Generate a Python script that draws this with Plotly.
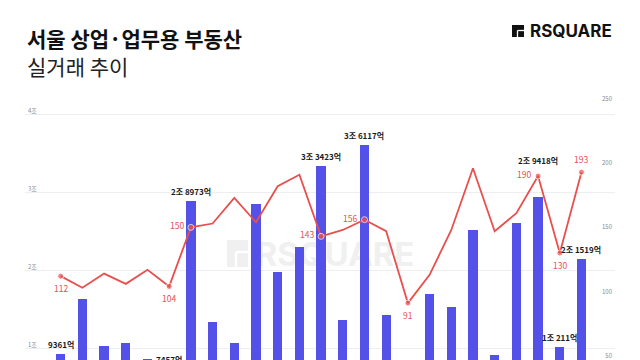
import plotly.graph_objects as go

# ---------------- data ----------------
periods = ["1", "2", "3", "4", "5", "6", "7", "8", "9", "10", "11", "12", "13",
           "14", "15", "16", "17", "18", "19", "20", "21", "22", "23", "24", "25"]
# transaction amount (억원)
amount = [9361, 16390, 10410, 10790, 8700, 7457, 28973, 13400, 10800, 28550,
          19890, 23010, 33423, 13700, 36117, 14300, 8200, 17030, 15330, 25220,
          9220, 26120, 29418, 10211, 21519]
# number of transactions (건)
count = [112, 103, 114, 106, 117, 104, 150, 153, 173, 154, 182, 191, 143,
         148, 156, 147, 91, 113, 148, 196, 147, 161, 190, 130, 193]

left_tick_vals = [10000, 20000, 30000, 40000]
left_tick_text = ["1조", "2조", "3조", "4조"]
right_tick_vals = [50, 100, 150, 200, 250]
right_tick_text = ["50", "100", "150", "200", "250"]

bar_label_idx = [0, 5, 6, 12, 14, 22, 23, 24]
line_label_idx = [0, 5, 6, 12, 14, 16, 22, 23, 24]
# label placement for the line labels
line_label_pos = {0: "below", 5: "below", 6: "left", 12: "left", 14: "left",
                  16: "below", 22: "left", 23: "below", 24: "above"}

BAR = "#5451e8"
RED = "#e8504f"
FONT = "Noto Sans CJK KR"
Y_RANGE = [8580, 43150]
Y2_RANGE = [46.7, 257]


def fmt_amount(v):
    jo, eok = divmod(v, 10000)
    return f"{jo}조 {eok}억" if jo else f"{eok}억"


def to_paper(v, rng):
    return (v - rng[0]) / (rng[1] - rng[0])


xs = list(range(len(periods)))

fig = go.Figure()
fig.add_trace(go.Bar(
    x=xs, y=amount, marker=dict(color=BAR, line=dict(width=0)),
    width=0.43, yaxis="y", hoverinfo="skip", name="거래금액"))

marker_sizes = [6 if i in line_label_idx else 0 for i in xs]
fig.add_trace(go.Scatter(
    x=xs, y=count, yaxis="y2", mode="lines+markers",
    line=dict(color=RED, width=1.8),
    marker=dict(color=RED, size=marker_sizes),
    hoverinfo="skip", name="거래건수"))

annotations = []
# bar value labels (paper y so labels of bars whose top is below the view still show)
for i in bar_label_idx:
    annotations.append(dict(
        x=i, y=to_paper(amount[i], Y_RANGE), xref="x", yref="paper",
        text=fmt_amount(amount[i]),
        showarrow=False, yanchor="bottom", yshift=2 if i != 22 else 29,
        font=dict(family=FONT, size=8, color="#1a1a1a", weight="bold")))
# line value labels
for i in line_label_idx:
    pos = line_label_pos[i]
    a = dict(x=i, y=count[i], xref="x", yref="y2", text=str(count[i]),
             showarrow=False, font=dict(family=FONT, size=8.5, color=RED))
    if pos == "below":
        a.update(yanchor="top", yshift=-4)
    elif pos == "above":
        a.update(yanchor="bottom", yshift=5)
    else:
        a.update(xanchor="right", xshift=-5, yshift=2)
    annotations.append(a)

# title / subtitle
annotations.append(dict(
    x=0, y=(360 - 38) / 270, xref="paper", yref="paper", xanchor="left",
    yanchor="middle", showarrow=False, text="서울 상업·업무용 부동산",
    font=dict(family=FONT, size=21, color="#111111", weight="bold")))
annotations.append(dict(
    x=0, y=(360 - 66) / 270, xref="paper", yref="paper", xanchor="left",
    yanchor="middle", showarrow=False, text="실거래 추이",
    font=dict(family=FONT, size=21, color="#222222")))
# logo text
annotations.append(dict(
    x=(528 - 25) / 590, y=(360 - 31) / 270, xref="paper", yref="paper",
    xanchor="left", yanchor="middle", showarrow=False, text="RSQUARE",
    font=dict(family="Inter", size=17, color="#111111", weight="bold")))


def px(xp):
    return (xp - 25) / 590


def py(yp):
    return (360 - yp) / 270


shapes = [
    # logo icon
    dict(type="rect", xref="paper", yref="paper", x0=px(512), x1=px(524),
         y0=py(37), y1=py(25), fillcolor="#111111", line=dict(width=0)),
    dict(type="line", xref="paper", yref="paper", x0=px(517.5), x1=px(517.5),
         y0=py(37), y1=py(30.5), line=dict(color="white", width=1.3)),
    dict(type="line", xref="paper", yref="paper", x0=px(517.5), x1=px(524),
         y0=py(30.5), y1=py(30.5), line=dict(color="white", width=1.3)),
    # watermark icon
    dict(type="rect", xref="paper", yref="paper", x0=px(227), x1=px(248),
         y0=py(267), y1=py(240), fillcolor="#f0f0f0", line=dict(width=0),
         layer="between"),
    dict(type="line", xref="paper", yref="paper", x0=px(236), x1=px(236),
         y0=py(267), y1=py(252), line=dict(color="white", width=2.5),
         layer="between"),
    dict(type="line", xref="paper", yref="paper", x0=px(236), x1=px(248),
         y0=py(252), y1=py(252), line=dict(color="white", width=2.5),
         layer="between"),
    # watermark text
    dict(type="rect", xref="paper", yref="paper", x0=px(250), x1=px(420),
         y0=py(268), y1=py(238), line=dict(width=0),
         fillcolor="rgba(0,0,0,0)", layer="between",
         label=dict(text="RSQUARE", textposition="middle center",
                    font=dict(family="Inter", size=33, color="#f0f0f0",
                              weight="bold"))),
]

fig.update_layout(
    width=640, height=360, autosize=False,
    margin=dict(l=25, r=25, t=90, b=0, pad=0),
    paper_bgcolor="white", plot_bgcolor="white",
    showlegend=False, bargap=0,
    font=dict(family=FONT),
    xaxis=dict(range=[-1.645, 25.545], showgrid=False, zeroline=False,
               showticklabels=False, ticks="", showline=False, fixedrange=True),
    yaxis=dict(range=Y_RANGE, tickvals=left_tick_vals,
               ticktext=left_tick_text, ticklabelposition="inside top",
               showgrid=True, gridcolor="#eeeeee", gridwidth=1,
               zeroline=False, showline=False, ticks="",
               tickfont=dict(size=6, color="#8a8a8a")),
    yaxis2=dict(range=Y2_RANGE, overlaying="y", side="right",
                tickvals=right_tick_vals, ticktext=right_tick_text,
                ticklabelposition="inside", showgrid=False, zeroline=False,
                showline=False, ticks="",
                tickfont=dict(size=6, color="#8a8a8a")),
    annotations=annotations,
    shapes=shapes,
)

fig.write_html(
    "out.html",
    config={"displayModeBar": False, "staticPlot": True},
    post_script="document.body.style.margin='0';document.body.style.overflow='hidden';",
)
